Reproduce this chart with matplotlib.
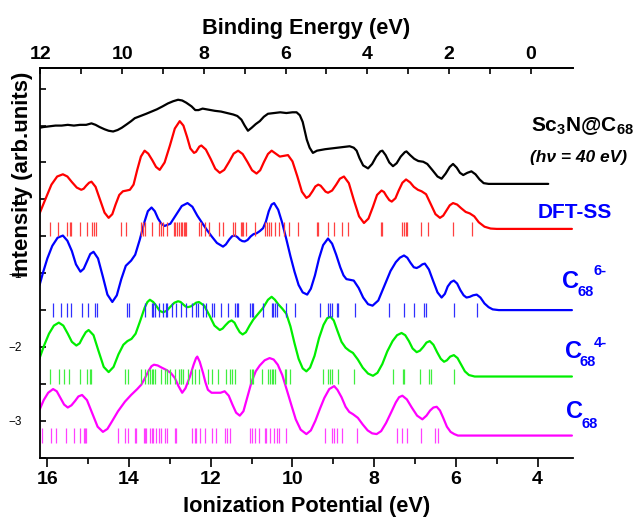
import numpy as np
import matplotlib
matplotlib.use("Agg")
import matplotlib.pyplot as plt
from matplotlib.ticker import MultipleLocator, FixedLocator, FuncFormatter

plt.rcParams['font.family'] = ['Liberation Sans', 'DejaVu Sans']
plt.rcParams['mathtext.fontset'] = 'custom'
plt.rcParams['mathtext.rm'] = 'Liberation Sans:bold'
plt.rcParams['mathtext.it'] = 'Liberation Sans:bold:italic'
plt.rcParams['mathtext.bf'] = 'Liberation Sans:bold'

# experimental spectrum Sc3N@C68 (hv = 40 eV)
exp_ip = [16.19, 16.10, 15.95, 15.80, 15.65, 15.50, 15.35, 15.20, 15.05, 14.92,
          14.82, 14.72, 14.60, 14.50, 14.39, 14.28, 14.18, 14.05, 13.95, 13.86,
          13.72, 13.58, 13.45, 13.32, 13.18, 13.05, 12.92, 12.80, 12.70, 12.60,
          12.47, 12.38, 12.30, 12.20, 12.10, 12.00, 11.90, 11.75, 11.60, 11.45,
          11.35, 11.25, 11.17, 11.09, 11.00, 10.90, 10.80, 10.70, 10.60, 10.45,
          10.30, 10.15, 10.00, 9.90, 9.82, 9.75, 9.70, 9.65, 9.58, 9.50,
          9.40, 9.30, 9.20, 9.05, 8.90, 8.75, 8.60, 8.50, 8.43, 8.36,
          8.27, 8.15, 8.05, 7.95, 7.85, 7.80, 7.72, 7.63, 7.54, 7.45,
          7.35, 7.25, 7.21, 7.12, 7.02, 6.92, 6.80, 6.70, 6.58, 6.45,
          6.35, 6.25, 6.15, 6.07, 5.98, 5.90, 5.82, 5.72, 5.62, 5.52,
          5.42, 5.32, 5.20, 3.74]
exp_int = [0.97, 0.98, 0.99, 1.00, 1.00, 1.01, 1.00, 1.01, 1.01, 1.03,
           1.01, 0.98, 0.95, 0.93, 0.92, 0.94, 0.97, 1.02, 1.06, 1.10,
           1.13, 1.16, 1.19, 1.22, 1.26, 1.30, 1.33, 1.35, 1.34, 1.31,
           1.26, 1.21, 1.21, 1.23, 1.22, 1.21, 1.20, 1.19, 1.17, 1.15,
           1.13, 1.08, 1.00, 0.93, 0.97, 1.02, 1.06, 1.12, 1.16, 1.17,
           1.18, 1.17, 1.18, 1.18, 1.14, 1.05, 0.93, 0.81, 0.70, 0.63,
           0.66, 0.67, 0.68, 0.69, 0.70, 0.71, 0.72, 0.70, 0.66, 0.56,
           0.46, 0.42, 0.48, 0.58, 0.65, 0.66, 0.60, 0.50, 0.45, 0.49,
           0.58, 0.64, 0.65, 0.60, 0.55, 0.52, 0.51, 0.48, 0.40, 0.31,
           0.28, 0.35, 0.44, 0.48, 0.43, 0.36, 0.33, 0.36, 0.38, 0.34,
           0.27, 0.22, 0.21, 0.21]

# DFT-SS
dft_ip = [16.19, 16.05, 15.90, 15.76, 15.62, 15.51, 15.40, 15.28, 15.17, 15.11,
          15.05, 14.98, 14.92, 14.82, 14.71, 14.60, 14.50, 14.41, 14.33, 14.24,
          14.15, 14.06, 13.98, 13.89, 13.80, 13.71, 13.62, 13.53, 13.43, 13.34,
          13.25, 13.13, 13.00, 12.88, 12.76, 12.67, 12.58, 12.50, 12.41, 12.36,
          12.32, 12.28, 12.23, 12.12, 12.00, 11.89, 11.78, 11.67, 11.55, 11.44,
          11.33, 11.22, 11.10, 10.99, 10.88, 10.79, 10.70, 10.60, 10.51, 10.41,
          10.31, 10.21, 10.11, 10.00, 9.88, 9.77, 9.66, 9.59, 9.51, 9.44,
          9.37, 9.31, 9.25, 9.19, 9.13, 9.03, 8.93, 8.84, 8.74, 8.62,
          8.50, 8.37, 8.25, 8.14, 8.03, 7.93, 7.82, 7.76, 7.70, 7.63,
          7.57, 7.48, 7.40, 7.31, 7.22, 7.12, 7.03, 6.93, 6.84, 6.73,
          6.61, 6.50, 6.39, 6.31, 6.23, 6.15, 6.07, 5.97, 5.87, 5.76,
          5.66, 5.55, 5.44, 5.30, 5.15, 5.00, 3.16]
dft_int = [-0.19, 0.00, 0.20, 0.31, 0.34, 0.31, 0.235, 0.16, 0.13, 0.145,
           0.185, 0.225, 0.24, 0.17, -0.005, -0.18, -0.25, -0.20, -0.07, 0.06,
           0.11, 0.12, 0.13, 0.20, 0.40, 0.58, 0.66, 0.62, 0.53, 0.44,
           0.40, 0.50, 0.73, 0.96, 1.06, 1.00, 0.845, 0.69, 0.63, 0.645,
           0.68, 0.715, 0.73, 0.675, 0.545, 0.415, 0.36, 0.40, 0.51, 0.62,
           0.66, 0.615, 0.505, 0.395, 0.35, 0.395, 0.505, 0.615, 0.66, 0.62,
           0.58, 0.59, 0.60, 0.515, 0.31, 0.105, 0.02, 0.045, 0.11, 0.175,
           0.20, 0.185, 0.145, 0.105, 0.09, 0.12, 0.20, 0.28, 0.31, 0.22,
           -0.005, -0.23, -0.32, -0.26, -0.10, 0.06, 0.12, 0.10, 0.045, -0.01,
           -0.03, 0.015, 0.12, 0.225, 0.27, 0.23, 0.17, 0.13, 0.11, 0.07,
           -0.07, -0.20, -0.25, -0.22, -0.15, -0.08, -0.05, -0.07, -0.12, -0.17,
           -0.19, -0.23, -0.31, -0.37, -0.395, -0.40, -0.40]
dft_sticks = [15.94, 15.74, 15.51, 15.45, 15.41, 15.21, 15.04, 14.91, 14.87, 14.82,
              14.19, 14.07, 13.70, 13.66, 13.62, 13.44, 13.27, 13.21, 13.17, 13.06,
              12.90, 12.87, 12.82, 12.78, 12.74, 12.70, 12.66, 12.62, 12.60, 12.29,
              12.25, 12.15, 12.05, 11.80, 11.71, 11.45, 11.41, 11.27, 11.23, 11.21,
              11.13, 10.92, 10.68, 10.62, 10.57, 10.53, 10.42, 10.33, 10.21, 10.09,
              9.86, 9.41, 9.37, 9.13, 8.99, 8.78, 8.64, 7.84, 7.80, 7.32,
              7.27, 7.23, 7.19, 6.85, 6.68, 6.07, 5.60]

# C68 6-
c6_ip = [16.19, 16.10, 16.00, 15.88, 15.75, 15.62, 15.51, 15.40, 15.30, 15.19,
         15.11, 15.03, 14.95, 14.87, 14.76, 14.64, 14.53, 14.41, 14.30, 14.19,
         14.08, 13.95, 13.85, 13.74, 13.62, 13.54, 13.45, 13.37, 13.29, 13.21,
         13.13, 12.99, 12.85, 12.71, 12.57, 12.45, 12.33, 12.21, 12.10, 11.98,
         11.85, 11.70, 11.63, 11.55, 11.48, 11.41, 11.35, 11.29, 11.23, 11.17,
         11.10, 11.02, 10.95, 10.88, 10.80, 10.72, 10.65, 10.58, 10.51, 10.45,
         10.35, 10.25, 10.15, 10.05, 9.95, 9.85, 9.75, 9.64, 9.55, 9.45,
         9.35, 9.25, 9.13, 9.03, 8.93, 8.83, 8.75, 8.68, 8.59, 8.50,
         8.38, 8.27, 8.15, 8.04, 7.90, 7.75, 7.60, 7.47, 7.37, 7.27,
         7.19, 7.11, 7.03, 6.96, 6.89, 6.82, 6.76, 6.66, 6.56, 6.45,
         6.35, 6.27, 6.20, 6.12, 6.05, 5.97, 5.89, 5.81, 5.74, 5.66,
         5.58, 5.49, 5.40, 5.30, 5.20, 5.10, 4.95, 3.16]
c6_int = [-1.16, -0.98, -0.80, -0.63, -0.52, -0.49, -0.56, -0.70, -0.88, -0.98,
          -0.94, -0.84, -0.74, -0.71, -0.80, -1.05, -1.29, -1.39, -1.30, -1.08,
          -0.90, -0.83, -0.75, -0.55, -0.30, -0.16, -0.11, -0.16, -0.26, -0.33,
          -0.36, -0.33, -0.21, -0.09, -0.05, -0.10, -0.22, -0.32, -0.41, -0.50,
          -0.59, -0.64, -0.61, -0.545, -0.50, -0.49, -0.51, -0.545, -0.565, -0.57,
          -0.55, -0.50, -0.47, -0.46, -0.43, -0.39, -0.30, -0.16, -0.07, -0.05,
          -0.14, -0.32, -0.54, -0.77, -0.98, -1.16, -1.26, -1.29, -1.21, -1.03,
          -0.80, -0.62, -0.53, -0.60, -0.75, -0.92, -1.03, -1.08, -1.09, -1.10,
          -1.20, -1.33, -1.42, -1.44, -1.37, -1.17, -0.97, -0.85, -0.79, -0.76,
          -0.79, -0.86, -0.92, -0.93, -0.91, -0.88, -0.87, -0.95, -1.10, -1.26,
          -1.33, -1.28, -1.18, -1.12, -1.10, -1.14, -1.23, -1.30, -1.33, -1.32,
          -1.30, -1.29, -1.33, -1.41, -1.46, -1.49, -1.50, -1.50]
c6_sticks = [15.86, 15.66, 15.53, 15.41, 15.14, 15.01, 14.84, 14.79, 14.04, 14.01,
             13.62, 13.45, 13.41, 13.37, 13.27, 13.17, 13.10, 13.07, 12.95, 12.84,
             12.72, 12.60, 12.47, 12.37, 12.31, 12.19, 12.11, 11.96, 11.93, 11.74,
             11.58, 11.41, 11.37, 11.33, 11.05, 11.00, 10.96, 10.72, 10.51, 10.47,
             10.43, 10.39, 10.15, 9.94, 9.33, 9.13, 9.09, 9.04, 8.92, 8.88,
             8.46, 7.63, 7.27, 7.02, 6.78, 6.72, 6.05, 5.49]

# C68 4-
c4_ip = [16.19, 16.08, 15.96, 15.84, 15.72, 15.61, 15.50, 15.40, 15.29, 15.21,
         15.14, 15.06, 14.99, 14.87, 14.75, 14.62, 14.50, 14.38, 14.26, 14.14,
         14.04, 13.94, 13.84, 13.73, 13.62, 13.55, 13.49, 13.41, 13.33, 13.25,
         13.17, 13.08, 12.99, 12.89, 12.80, 12.74, 12.68, 12.62, 12.56, 12.49,
         12.42, 12.36, 12.29, 12.16, 12.03, 11.91, 11.78, 11.71, 11.64, 11.56,
         11.49, 11.42, 11.36, 11.29, 11.22, 11.14, 11.05, 10.96, 10.84, 10.72,
         10.60, 10.51, 10.43, 10.35, 10.25, 10.15, 10.05, 9.95, 9.85, 9.75,
         9.66, 9.57, 9.46, 9.35, 9.24, 9.15, 9.07, 8.99, 8.90, 8.80,
         8.70, 8.61, 8.52, 8.40, 8.28, 8.15, 8.03, 7.92, 7.80, 7.68,
         7.55, 7.44, 7.33, 7.24, 7.15, 7.06, 6.96, 6.88, 6.80, 6.72,
         6.64, 6.55, 6.46, 6.37, 6.29, 6.22, 6.14, 6.05, 5.96, 5.87,
         5.78, 5.68, 5.54, 3.16]
c4_int = [-2.15, -1.98, -1.82, -1.71, -1.67, -1.71, -1.82, -1.93, -1.98, -1.95,
          -1.875, -1.80, -1.77, -1.84, -2.05, -2.27, -2.34, -2.27, -2.10, -1.97,
          -1.92, -1.89, -1.82, -1.65, -1.47, -1.39, -1.36, -1.39, -1.445, -1.51,
          -1.53, -1.51, -1.455, -1.40, -1.38, -1.39, -1.42, -1.45, -1.46, -1.45,
          -1.425, -1.40, -1.39, -1.44, -1.575, -1.71, -1.77, -1.75, -1.705, -1.66,
          -1.64, -1.67, -1.735, -1.80, -1.83, -1.80, -1.71, -1.63, -1.55, -1.47,
          -1.36, -1.32, -1.36, -1.42, -1.48, -1.55, -1.72, -1.95, -2.16, -2.29,
          -2.33, -2.28, -2.12, -1.88, -1.70, -1.61, -1.59, -1.64, -1.78, -1.93,
          -2.01, -2.05, -2.08, -2.17, -2.28, -2.36, -2.39, -2.35, -2.23, -2.06,
          -1.92, -1.84, -1.81, -1.84, -1.92, -2.02, -2.07, -2.05, -2.00, -1.94,
          -1.92, -1.97, -2.07, -2.16, -2.20, -2.18, -2.13, -2.11, -2.15, -2.24,
          -2.33, -2.38, -2.40, -2.40]
c4_sticks = [15.94, 15.72, 15.60, 15.47, 15.21, 15.02, 14.96, 14.92, 14.11, 14.03,
             13.70, 13.62, 13.54, 13.49, 13.45, 13.41, 13.37, 13.23, 13.13, 13.07,
             13.00, 12.88, 12.78, 12.74, 12.72, 12.68, 12.56, 12.47, 12.39, 12.29,
             12.07, 11.98, 11.82, 11.62, 11.54, 11.49, 11.41, 11.05, 11.00, 10.96,
             10.74, 10.60, 10.56, 10.51, 10.47, 10.43, 10.19, 10.15, 10.07, 9.25,
             9.13, 9.09, 9.04, 8.88, 8.50, 7.54, 7.30, 7.27, 6.88, 6.65,
             6.60, 6.05]

# neutral C68
c0_ip = [16.19, 16.09, 15.98, 15.86, 15.77, 15.68, 15.59, 15.50, 15.41, 15.32,
         15.24, 15.15, 15.03, 14.90, 14.77, 14.64, 14.53, 14.42, 14.27, 14.10,
         13.95, 13.80, 13.70, 13.61, 13.52, 13.45, 13.39, 13.30, 13.20, 13.09,
         12.98, 12.88, 12.79, 12.70, 12.62, 12.51, 12.42, 12.36, 12.33, 12.27,
         12.19, 12.13, 12.07, 11.98, 11.86, 11.76, 11.66, 11.56, 11.47, 11.38,
         11.29, 11.20, 11.10, 11.00, 10.90, 10.80, 10.68, 10.56, 10.46, 10.36,
         10.25, 10.14, 10.02, 9.92, 9.80, 9.66, 9.55, 9.44, 9.33, 9.22,
         9.10, 8.98, 8.90, 8.80, 8.70, 8.61, 8.52, 8.40, 8.28, 8.16,
         8.05, 7.94, 7.83, 7.71, 7.58, 7.47, 7.39, 7.31, 7.20, 7.08,
         6.95, 6.82, 6.72, 6.63, 6.55, 6.47, 6.39, 6.31, 6.22, 6.13,
         6.04, 5.95, 3.16]
c0_int = [-2.85, -2.72, -2.62, -2.57, -2.60, -2.69, -2.78, -2.82, -2.79, -2.73,
          -2.67, -2.65, -2.72, -2.90, -3.08, -3.15, -3.11, -3.01, -2.87, -2.74,
          -2.65, -2.57, -2.51, -2.42, -2.32, -2.26, -2.24, -2.25, -2.28, -2.31,
          -2.35, -2.42, -2.53, -2.62, -2.56, -2.40, -2.24, -2.15, -2.13, -2.20,
          -2.35, -2.48, -2.58, -2.62, -2.62, -2.62, -2.60, -2.66, -2.78, -2.89,
          -2.93, -2.87, -2.67, -2.47, -2.33, -2.25, -2.18, -2.15, -2.17, -2.24,
          -2.38, -2.58, -2.80, -2.98, -3.12, -3.18, -3.13, -3.00, -2.84, -2.69,
          -2.57, -2.53, -2.58, -2.68, -2.81, -2.88, -2.91, -2.96, -3.05, -3.13,
          -3.17, -3.18, -3.14, -3.03, -2.88, -2.75, -2.68, -2.66, -2.71, -2.82,
          -2.93, -2.98, -2.93, -2.86, -2.82, -2.81, -2.86, -2.96, -3.08, -3.15,
          -3.18, -3.20, -3.20]
c0_sticks = [16.13, 15.92, 15.80, 15.55, 15.36, 15.19, 15.11, 15.09, 15.06, 14.27,
             14.11, 14.03, 13.86, 13.82, 13.63, 13.60, 13.58, 13.49, 13.45, 13.41,
             13.35, 13.27, 13.21, 13.13, 13.07, 12.88, 12.84, 12.47, 12.39, 12.35,
             12.27, 12.15, 11.98, 11.86, 11.64, 11.60, 11.54, 11.05, 10.98, 10.92,
             10.82, 10.68, 10.64, 10.56, 10.46, 10.39, 10.34, 10.16, 9.21, 9.04,
             8.99, 8.92, 8.80, 8.42, 7.44, 7.32, 7.19, 6.86, 6.50, 6.45]

be_ticks = [0, 2, 4, 6, 8, 10, 12]
be_minor = [1, 3, 5, 7, 9, 11]

fig = plt.figure(figsize=(6.38, 5.18), dpi=100)
ax = fig.add_axes([0.0627, 0.1164, 0.8350, 0.7523])

kw = dict(lw=1.6, solid_joinstyle='round', solid_capstyle='round')
ax.plot(exp_ip, exp_int, color='black', **kw)
ax.plot(dft_ip, dft_int, color='#ff0000', **kw)
ax.plot(c6_ip, c6_int, color='#0000ff', **kw)
ax.plot(c4_ip, c4_int, color='#00ee00', **kw)
ax.plot(c0_ip, c0_int, color='#ff00ff', **kw)

ax.vlines(dft_sticks, -0.5, -0.3, color='#ff4040', lw=0.9)
ax.vlines(c6_sticks, -1.6, -1.4, color='#3030ff', lw=0.9)
ax.vlines(c4_sticks, -2.5, -2.3, color='#40ee40', lw=0.9)
ax.vlines(c0_sticks, -3.3, -3.1, color='#ff40ff', lw=0.9)

ax.set_xlim(16.18, 3.14)
ax.set_ylim(-3.5, 1.78)
ax.spines['right'].set_visible(False)
for s in ['left', 'top', 'bottom']:
    ax.spines[s].set_linewidth(1.3)

ax.xaxis.set_major_locator(MultipleLocator(2))
ax.xaxis.set_minor_locator(MultipleLocator(1))
ax.yaxis.set_major_locator(MultipleLocator(0.5))
ax.yaxis.set_major_formatter(FuncFormatter(
    lambda v, p: ('\u2212%d' % abs(round(v)) if v < 0 else '%d' % round(v)) if abs(v - round(v)) < 1e-6 else ''))
ax.tick_params(axis='x', which='both', direction='out', top=False, width=1.2,
               labelsize=14, pad=3)
ax.tick_params(axis='x', which='major', length=6.5)
ax.tick_params(axis='x', which='minor', length=4.5)
ax.tick_params(axis='y', which='both', direction='in', right=False, length=4.5,
               width=1.2, labelsize=8.5, pad=13)
for lab in ax.get_xticklabels():
    lab.set_fontweight('bold')

ax.set_xlabel('Ionization Potential (eV)', fontsize=15.7, fontweight='bold', labelpad=6)
ax.set_ylabel('Intensity (arb.units)', fontsize=16, fontweight='bold')
ax.yaxis.set_label_coords(-0.013, 0.728)

sec = ax.secondary_xaxis('top', functions=(lambda ip: ip - 4.17, lambda be: be + 4.17))
sec.xaxis.set_major_locator(FixedLocator(be_ticks))
sec.xaxis.set_minor_locator(FixedLocator(be_minor))
sec.tick_params(which='both', direction='in', length=4.5, width=1.2, labelsize=14)
for lab in sec.get_xticklabels():
    lab.set_fontweight('bold')
sec.set_xlabel('Binding Energy (eV)', fontsize=15.7, fontweight='bold', labelpad=9)
sec.spines['top'].set_linewidth(1.3)

W, H = 638, 518


def ftext(x, y, s, **k):
    fig.text(x / W, 1 - y / H, s, ha='left', va='baseline', fontweight='bold', **k)


ftext(531, 131, r'Sc$_3$N@C$_{68}$', fontsize=15)
ftext(530, 162, '(h\u03bd = 40 eV)', fontsize=12.5, fontstyle='italic')
ftext(538, 218, 'DFT-SS', fontsize=15, color='#0000ff')
blue = '#0000ff'
ftext(562, 288, 'C', fontsize=17, color=blue)
ftext(578, 296, '68', fontsize=10.5, color=blue)
ftext(594, 275, '6-', fontsize=10.5, color=blue)
ftext(565, 358, 'C', fontsize=17, color=blue)
ftext(580, 366, '68', fontsize=10.5, color=blue)
ftext(594, 347, '4-', fontsize=10.5, color=blue)
ftext(566, 418, 'C', fontsize=17, color=blue)
ftext(581, 428, '68', fontsize=10.5, color=blue)

fig.savefig('out.png', dpi=100)
